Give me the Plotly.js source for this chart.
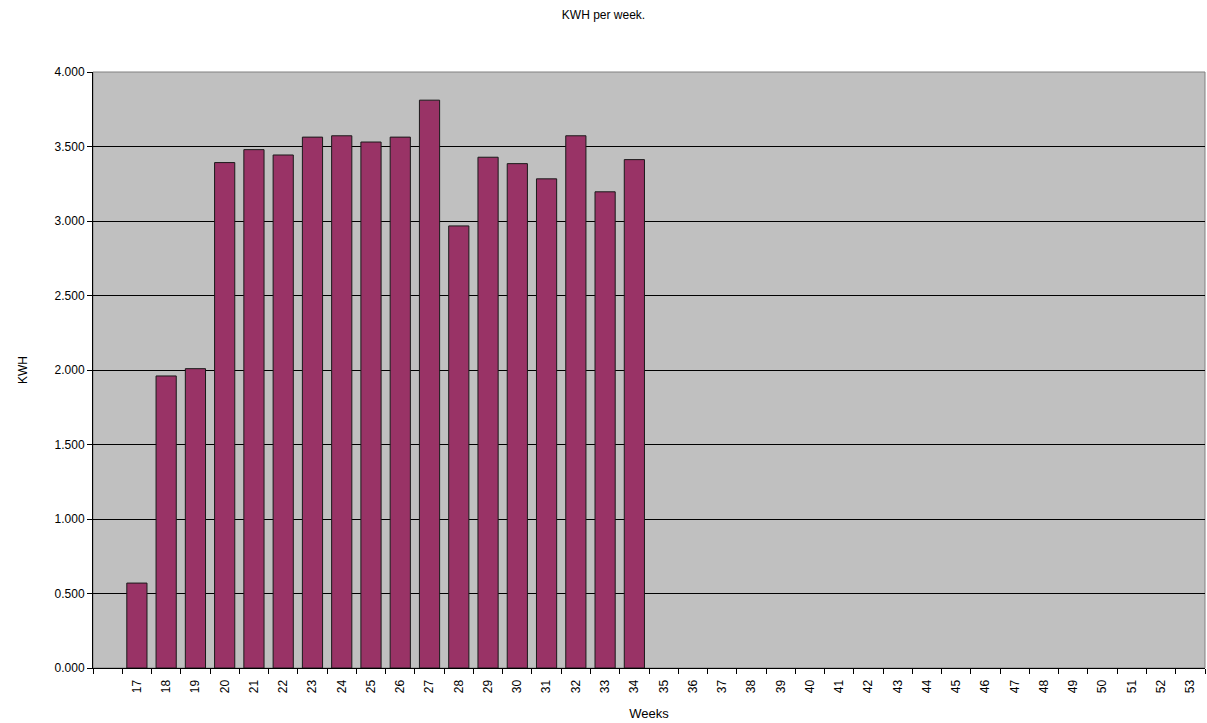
<!DOCTYPE html>
<html>
<head>
<meta charset="utf-8">
<script src="https://cdn.plot.ly/plotly-3.0.1.min.js"></script>
<style>html,body{margin:0;padding:0;background:#fff;}#chart{width:1207px;height:723px;}</style>
</head>
<body>
<div id="chart"></div>
<script>
// Weeks shown on the axis
const weeks = [17,18,19,20,21,22,23,24,25,26,27,28,29,30,31,32,33,34,35,36,37,38,39,40,41,42,43,44,45,46,47,48,49,50,51,52,53];
// KWH values (weeks 17..34)
const kwh = [0.570,1.960,2.009,3.392,3.479,3.443,3.563,3.572,3.530,3.563,3.811,2.967,3.428,3.385,3.283,3.572,3.196,3.412];
const weekLabels = weeks.map(String);

const trace = {
  type: 'bar',
  x: weeks.slice(0, kwh.length),
  y: kwh,
  marker: {color: '#993366', line: {color: '#1a1a1a', width: 1}},
  hoverinfo: 'x+y'
};

const layout = {
  width: 1207, height: 723,
  margin: {l: 93, r: 2, t: 72, b: 55},
  paper_bgcolor: '#ffffff',
  plot_bgcolor: '#C0C0C0',
  bargap: 0.31,
  showlegend: false,
  font: {family: 'Liberation Sans, Arial, sans-serif', size: 12, color: '#000'},
  title: {text: 'KWH per week.', x: 0.5, xanchor: 'center', y: 0.98, yanchor: 'middle', font: {size: 12, color: '#000'}},
  xaxis: {
    type: 'linear',
    range: [15.5, 53.5],
    tickmode: 'array',
    tickvals: weeks,
    ticktext: weekLabels,
    tickangle: -90,
    ticks: '',
    ticklabelstandoff: 6,
    showgrid: false,
    zeroline: false,
    showline: true, linecolor: '#000', linewidth: 1,
    tickfont: {size: 12, color: '#000'},
    minor: {tick0: 16.5, dtick: 1, ticks: 'outside', ticklen: 5, tickcolor: '#000', showgrid: false},
    title: {text: 'Weeks', standoff: 16, font: {size: 13, color: '#000'}},
    fixedrange: true
  },
  yaxis: {
    range: [0, 4],
    tickmode: 'linear', tick0: 0, dtick: 0.5,
    tickformat: '.3f',
    ticks: 'outside', ticklen: 5, tickcolor: '#000',
    showgrid: true, gridcolor: '#000', gridwidth: 1,
    zeroline: false,
    showline: true, linecolor: '#000', linewidth: 1,
    tickfont: {size: 12, color: '#000'},
    title: {text: 'KWH', standoff: 24, font: {size: 12, color: '#000'}},
    fixedrange: true
  },
  shapes: [
    {type: 'rect', xref: 'paper', yref: 'paper', x0: 0, x1: 1, y0: 0, y1: 1, line: {color: '#808080', width: 1}, layer: 'below'}
  ]
};

Plotly.newPlot('chart', [trace], layout, {displayModeBar: false, staticPlot: true});
</script>
</body>
</html>
